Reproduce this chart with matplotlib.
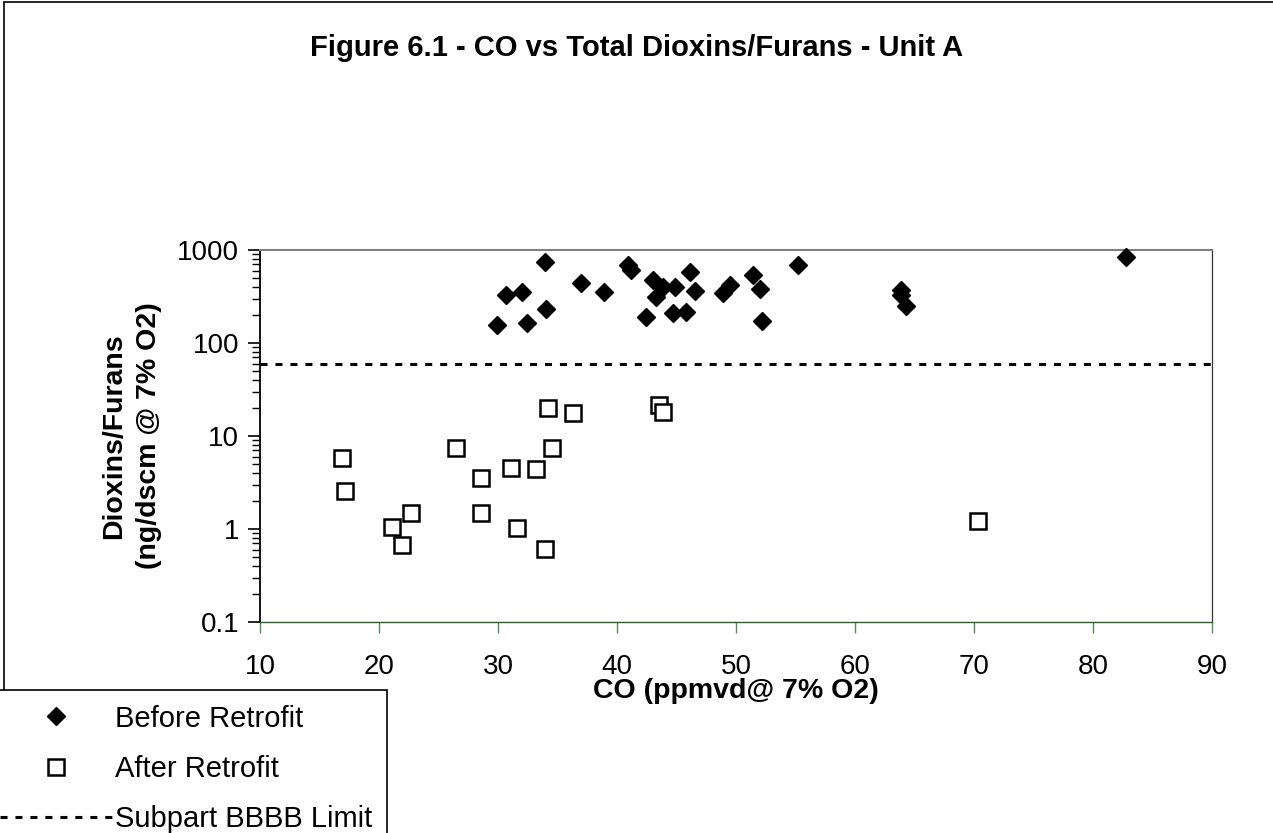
import matplotlib
matplotlib.use("Agg")
import matplotlib.pyplot as plt
from matplotlib.patches import Rectangle
from matplotlib.ticker import FixedLocator, LogLocator, NullFormatter

plt.rcParams['font.family'] = ['Liberation Sans', 'DejaVu Sans']

# data
before_co = [29.9, 30.7, 32.0, 32.4, 33.95, 34.0, 37.0, 38.9, 40.95, 41.2,
             42.4, 43.0, 43.3, 43.9, 44.9, 44.7, 45.8, 46.1, 46.55, 48.9,
             49.5, 51.45, 52.0, 52.2, 55.2, 63.9, 63.9, 64.3, 82.8]
before_df = [156, 328, 357, 165, 748, 230, 445, 351, 690, 609,
             192, 476, 315, 403, 403, 209, 217, 584, 365, 348,
             420, 538, 378, 172, 690, 371, 328, 250, 847]

after_co = [16.86, 17.14, 21.07, 22.66, 21.9, 26.45, 28.55, 28.55, 31.07,
            31.6, 33.2, 33.95, 34.2, 34.55, 36.3, 43.5, 43.9, 70.3]
after_df = [5.75, 2.56, 1.06, 1.50, 0.673, 7.38, 3.51, 1.48, 4.56,
            1.02, 4.41, 0.605, 19.9, 7.38, 17.8, 21.5, 18.2, 1.22]

limit_co = [10, 90]
limit_df = [60, 60]

x_ticks = [10, 20, 30, 40, 50, 60, 70, 80, 90]
y_ticks = [0.1, 1, 10, 100, 1000]
y_labels = ["0.1", "1", "10", "100", "1000"]

W, H = 1273, 833
fig = plt.figure(figsize=(W / 100, H / 100), dpi=100)
ax = fig.add_axes([260 / W, 1 - 622 / H, 952 / W, 372 / H])

ax.plot(before_co, before_df, linestyle='none', marker='D', markersize=9.5,
        color='black', label='Before Retrofit', clip_on=False, zorder=3)
ax.plot(after_co, after_df, linestyle='none', marker='s', markersize=11,
        markerfacecolor='white', markeredgecolor='black', markeredgewidth=1.8,
        label='After Retrofit', clip_on=False, zorder=3)
ax.plot(limit_co, limit_df, color='black', linewidth=2.2, dashes=(2.3, 2.6),
        label='Subpart BBBB Limit', zorder=2)

ax.set_yscale('log')
ax.set_xlim(10, 90)
ax.set_ylim(0.1, 1000)
ax.yaxis.set_major_locator(FixedLocator(y_ticks))
ax.set_yticklabels(y_labels)
ax.yaxis.set_minor_locator(LogLocator(base=10, subs=range(2, 10)))
ax.yaxis.set_minor_formatter(NullFormatter())
ax.set_xticks(x_ticks)
ax.set_xticklabels([str(v) for v in x_ticks])

ax.tick_params(axis='y', which='major', direction='out', length=9, width=1.2,
               colors='black', labelsize=20, pad=6)
ax.tick_params(axis='y', which='minor', direction='out', length=6, width=1.0,
               colors='black')
ax.tick_params(axis='x', direction='out', length=8, width=1.0, color='#5a8a5a',
               labelcolor='black', labelsize=20, pad=15)

ax.spines['left'].set_color('black')
ax.spines['left'].set_linewidth(1.3)
ax.spines['top'].set_color('#808080')
ax.spines['top'].set_linewidth(1.5)
ax.spines['right'].set_color('#333333')
ax.spines['right'].set_linewidth(0.9)
ax.spines['bottom'].set_color('#2f5f2f')
ax.spines['bottom'].set_linewidth(1.0)

ax.set_xlabel("CO (ppmvd@ 7% O2)", fontsize=20.5, fontweight='bold')
ax.xaxis.set_label_coords(0.5, -(678 - 622) / 372)
ax.set_ylabel("Dioxins/Furans\n(ng/dscm @ 7% O2)", fontsize=20.5,
              fontweight='bold', linespacing=1.45)
ax.yaxis.set_label_coords(-(260 - 162) / 952, 0.5)

fig.text(0.5, 1 - 48 / H, "Figure 6.1 - CO vs Total Dioxins/Furans - Unit A",
         ha='center', va='center', fontsize=21, fontweight='bold')

# outer border of the chart area
fig.patches.append(Rectangle((4 / W, -0.1), 1.2, 1.1 - 2.5 / H, fill=False,
                             edgecolor='black', linewidth=1.2,
                             transform=fig.transFigure, figure=fig))

handles, labels = ax.get_legend_handles_labels()
leg = fig.legend(handles, labels, loc='upper left',
                 bbox_to_anchor=(-15 / W, 1 - 690 / H),
                 bbox_transform=fig.transFigure, borderaxespad=0,
                 fontsize=21, frameon=True, fancybox=False, shadow=False,
                 edgecolor='black', framealpha=1, borderpad=0.5,
                 handlelength=3.85, handletextpad=0.12, labelspacing=0.76)
leg.get_frame().set_linewidth(1.2)

fig.savefig("out.png", dpi=100, facecolor='white')
